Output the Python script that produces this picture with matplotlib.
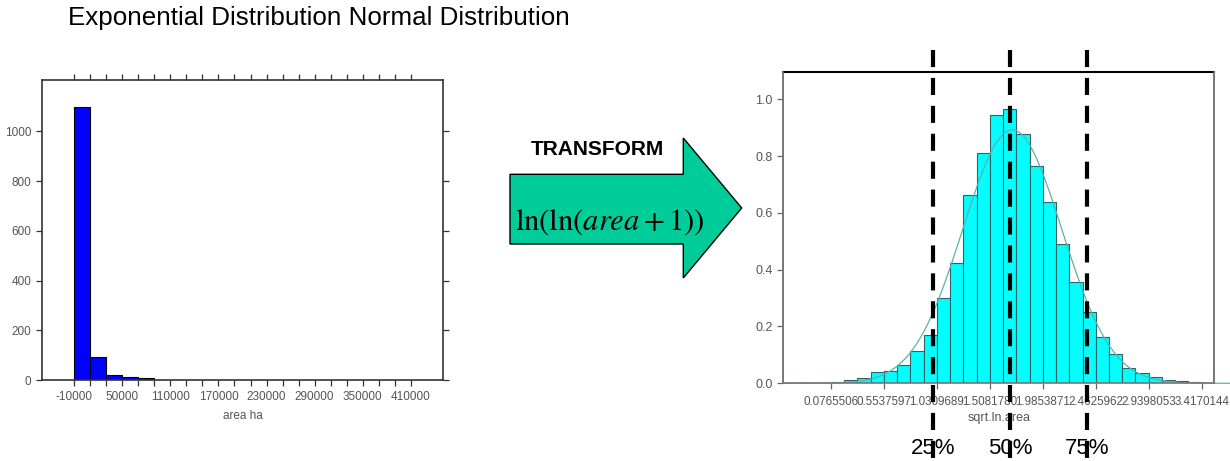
import numpy as np
import matplotlib
matplotlib.use('Agg')
import matplotlib.pyplot as plt
from matplotlib.patches import Polygon
from matplotlib.transforms import blended_transform_factory

plt.rcParams['font.family'] = ['Liberation Sans', 'DejaVu Sans']
plt.rcParams['mathtext.fontset'] = 'stix'

# left histogram: raw area (ha), bins of 20000
area_bin_left = [-10000, 10000, 30000, 50000, 70000]
area_counts = [1100, 91, 20, 13, 7]
area_bin_width = 20000
area_major_ticks = [-10000, 50000, 110000, 170000, 230000, 290000, 350000, 410000]
area_minor_ticks = list(range(-10000, 420000, 20000))

# right histogram: sqrt.ln.area density
norm_first_edge = 0.0765506
norm_bin_width = 0.4772091 / 4
norm_density = [0.006, 0.012, 0.018, 0.041, 0.045, 0.065, 0.114, 0.170, 0.299,
                0.423, 0.663, 0.810, 0.944, 0.967, 0.878, 0.764, 0.637, 0.491,
                0.358, 0.251, 0.164, 0.103, 0.053, 0.035, 0.021, 0.012, 0.007,
                0.005, 0.002]
norm_tick_pos = [0.0765506, 0.5537597, 1.0309689, 1.5081780, 1.9853871,
                 2.4625962, 2.9398053, 3.4170144]
norm_tick_labels = ['0.0765506', '0.5537597', '1.0309689', '1.5081780',
                    '1.9853871', '2.4625962', '2.9398053', '3.4170144']
quartile_pos = [0.998, 1.690, 2.386]
quartile_labels = ['25%', '50%', '75%']

W, H = 1230, 461
fig = plt.figure(figsize=(W / 100, H / 100), dpi=100)


def fx(px):
    return px / W


def fy(py):
    return 1 - py / H


tick_grey = '#555555'

# ---------------- left plot ----------------
ax1 = fig.add_axes([fx(42), fy(380), fx(443 - 42), (380 - 80) / H])
ax1.bar(area_bin_left, area_counts, width=area_bin_width, align='edge',
        color='#0000FF', edgecolor='black', linewidth=0.8)
ax1.set_xlim(-50000, 450000)
ax1.set_ylim(0, 1207)
ax1.set_xticks(area_major_ticks)
ax1.set_xticklabels([str(t) for t in area_major_ticks])
ax1.set_xticks(area_minor_ticks, minor=True)
ax1.set_yticks([0, 200, 400, 600, 800, 1000])
ax1.tick_params(axis='both', which='both', direction='out', colors='#333333',
                labelcolor=tick_grey, labelsize=8.5, width=0.9)
ax1.tick_params(axis='x', which='both', top=True, length=4, pad=4)
ax1.tick_params(axis='y', which='both', right=True, length=4)
for s in ax1.spines.values():
    s.set_color('#333333')
    s.set_linewidth(1.2)
ax1.set_xlabel('area ha', fontsize=8.5, color=tick_grey, labelpad=5)

# ---------------- right plot ----------------
ax2 = fig.add_axes([fx(783.3), fy(383.3), fx(1214 - 783.3), (383.3 - 71.7) / H])
edges = norm_first_edge + norm_bin_width * np.arange(len(norm_density))
ax2.bar(edges, norm_density, width=norm_bin_width, align='edge',
        color='#00FFFF', edgecolor='#2E6464', linewidth=0.8)

# fitted normal curve from the histogram moments
centers = edges + norm_bin_width / 2
w = np.array(norm_density) * norm_bin_width
mu = np.sum(centers * w) / np.sum(w)
sd = np.sqrt(np.sum(w * (centers - mu) ** 2) / np.sum(w))
xs = np.linspace(-0.353, 3.67, 400)
ax2.plot(xs, np.exp(-0.5 * ((xs - mu) / sd) ** 2) / (sd * np.sqrt(2 * np.pi)),
         color='#5FAFAF', linewidth=0.9, clip_on=False)

ax2.set_xlim(-0.353, 3.528)
ax2.set_ylim(0, 1.097)
ax2.set_xticks(norm_tick_pos)
ax2.set_xticklabels(norm_tick_labels)
ax2.set_yticks([0, 0.2, 0.4, 0.6, 0.8, 1.0])
ax2.set_yticklabels(['0.0', '0.2', '0.4', '0.6', '0.8', '1.0'])
ax2.tick_params(axis='both', direction='out', colors='#666666',
                labelcolor=tick_grey, labelsize=9, length=4, width=0.9)
ax2.tick_params(axis='x', pad=5, labelsize=8.4)
ax2.spines['top'].set_color('black')
ax2.spines['top'].set_linewidth(1.5)
for k in ['left', 'right', 'bottom']:
    ax2.spines[k].set_color('#777777')
    ax2.spines[k].set_linewidth(1.2)
# side frame lines drawn explicitly
for xa in (0, 1):
    ax2.plot([xa, xa], [0, 1], transform=ax2.transAxes, color='#777777',
             linewidth=1.2, clip_on=False, zorder=4)
ax2.set_xlabel('sqrt.ln.area', fontsize=9, color=tick_grey, labelpad=3)

# quartile dashed lines running past the axes
trans = blended_transform_factory(ax2.transData, ax2.transAxes)
y_top = (383.3 - 50) / (383.3 - 71.7)
y_bot = (383.3 - 461) / (383.3 - 71.7)
y_lab = (383.3 - 448) / (383.3 - 71.7)
for q, lab in zip(quartile_pos, quartile_labels):
    ax2.text(q, y_lab, lab, transform=trans, ha='center', va='center',
             fontsize=16, color='black', zorder=5)
    ax2.plot([q, q], [y_top, y_bot], transform=trans, color='black',
             linewidth=3, linestyle=(0, (4.1, 2.6)), clip_on=False, zorder=6)

# ---------------- title and arrow ----------------
fig.text(fx(68), fy(18), 'Exponential Distribution Normal Distribution',
         fontsize=18.7, ha='left', va='center')

arrow_px = [(510, 174.3), (683.3, 174.3), (683.3, 138), (741.7, 208),
            (683.3, 278), (683.3, 244), (510, 244)]
arrow = Polygon([(fx(x), fy(y)) for x, y in arrow_px], closed=True,
                transform=fig.transFigure, facecolor='#00CC99',
                edgecolor='black', linewidth=1.0)
fig.patches.append(arrow)

fig.text(fx(597.5), fy(149.3), 'TRANSFORM', fontsize=15, fontweight='bold',
         ha='center', va='center')
fig.text(fx(610), fy(222), r'$\mathrm{ln(ln(}\mathit{area}+1\mathrm{))}$',
         fontsize=22, ha='center', va='center')

fig.savefig('out.png', dpi=100, facecolor='white')
